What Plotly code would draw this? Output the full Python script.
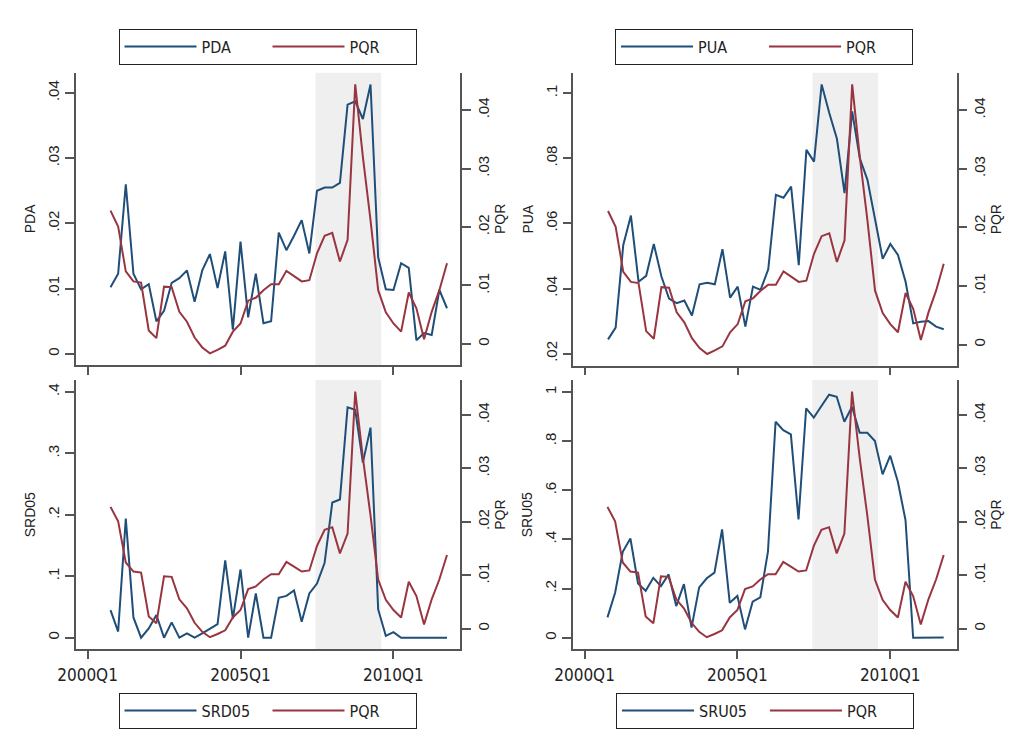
import plotly.graph_objects as go

# ---------------- data ----------------
start_year, start_q, n = 2000, 4, 45
quarters = []
y, q = start_year, start_q
for _ in range(n):
    quarters.append(f"{y}Q{q}")
    q += 1
    if q > 4:
        q, y = 1, y + 1

PDA = [0.0102, 0.0123, 0.0260, 0.0123, 0.0099, 0.0107, 0.0050, 0.0066, 0.0109, 0.0116,
       0.0128, 0.0080, 0.0128, 0.0153, 0.0101, 0.0157, 0.0037, 0.0172, 0.0056, 0.0123,
       0.0047, 0.0050, 0.0186, 0.0159, 0.0181, 0.0205, 0.0154, 0.0250, 0.0255, 0.0255,
       0.0262, 0.0382, 0.0387, 0.0360, 0.0413, 0.0148, 0.0099, 0.0098, 0.0139, 0.0132,
       0.0021, 0.0032, 0.0029, 0.0098, 0.0070]

PUA = [0.0244, 0.0280, 0.0534, 0.0624, 0.0421, 0.0439, 0.0537, 0.0437, 0.0369, 0.0355,
       0.0363, 0.0317, 0.0413, 0.0418, 0.0413, 0.0521, 0.0372, 0.0406, 0.0283, 0.0406,
       0.0396, 0.0459, 0.0688, 0.0679, 0.0713, 0.0472, 0.0826, 0.0790, 0.1027, 0.0939,
       0.0860, 0.0693, 0.0944, 0.0800, 0.0734, 0.0616, 0.0491, 0.0537, 0.0503, 0.0421,
       0.0293, 0.0298, 0.0300, 0.0283, 0.0275]

SRD05 = [0.045, 0.010, 0.194, 0.033, 0.000, 0.015, 0.037, 0.000, 0.025, 0.000,
         0.007, 0.000, 0.007, 0.015, 0.022, 0.126, 0.031, 0.111, 0.000, 0.072,
         0.000, 0.000, 0.065, 0.068, 0.077, 0.026, 0.072, 0.088, 0.122, 0.220,
         0.225, 0.375, 0.371, 0.285, 0.342, 0.046, 0.003, 0.009, 0.000, 0.000,
         0.000, 0.000, 0.000, 0.000, 0.000]

SRU05 = [0.083, 0.183, 0.350, 0.404, 0.221, 0.191, 0.244, 0.210, 0.258, 0.129,
         0.218, 0.041, 0.205, 0.242, 0.265, 0.441, 0.142, 0.170, 0.034, 0.147,
         0.164, 0.350, 0.879, 0.845, 0.828, 0.482, 0.934, 0.896, 0.943, 0.989,
         0.981, 0.879, 0.940, 0.834, 0.834, 0.801, 0.665, 0.741, 0.635, 0.479,
         0.000, 0.000, 0.003, 0.001, 0.001]

PQR = [0.0228, 0.0201, 0.0124, 0.0107, 0.0105, 0.0023, 0.0010, 0.0098, 0.0097, 0.0055,
       0.0038, 0.0011, -0.0006, -0.0016, -0.0010, -0.0003, 0.0021, 0.0035, 0.0074, 0.0079,
       0.0092, 0.0102, 0.0102, 0.0125, 0.0116, 0.0107, 0.0109, 0.0155, 0.0185, 0.0190,
       0.0141, 0.0178, 0.0444, 0.0320, 0.0212, 0.0092, 0.0054, 0.0035, 0.0021, 0.0088,
       0.0061, 0.0008, 0.0055, 0.0092, 0.0138]

tick_labels = ["2000Q1", "2005Q1", "2010Q1"]
crisis_band = ("2007Q3", "2009Q3")

# ---------------- helpers ----------------
def qidx(label):
    yy, qq = label.split("Q")
    return (int(yy) - 2000) * 4 + int(qq) - 1

x = [qidx(s) for s in quarters]
tickvals = [qidx(s) for s in tick_labels]
band_x0 = qidx(crisis_band[0]) - 0.2
band_x1 = qidx(crisis_band[1]) + 0.4

# the page body has an 8px margin: size the figure so it fits the window exactly
OFF = 8
W, H = 1020 - 2 * OFF, 749 - 2 * OFF
BLUE = "#1f4e79"
RED = "#993540"
AXC = "#555555"
YFONT = dict(family="Liberation Sans, Arial, sans-serif", size=15, color="#222222")
XFONT = dict(family="Liberation Sans Narrow, DejaVu Sans Condensed, Arial Narrow, sans-serif", size=17, color="#222222")
TFONT = dict(family="Liberation Sans, Arial, sans-serif", size=14, color="#222222")
LFONT = dict(family="Liberation Sans Narrow, DejaVu Sans Condensed, Arial Narrow, sans-serif", size=16, color="#222222")

def px_x(a, b):
    return [(a - OFF) / W, (b - OFF) / W]

def px_y(top, bottom):
    return [1 - (bottom - OFF) / H, 1 - (top - OFF) / H]

panels = [
    dict(name="PDA", vals=PDA, xd=px_x(75.7, 460), yd=px_y(72.7, 365),
         yr=[-0.0017, 0.0431], ytv=[0, 0.01, 0.02, 0.03, 0.04], ytt=["0", ".01", ".02", ".03", ".04"],
         qr=[-0.0036, 0.0464], qtv=[0, 0.01, 0.02, 0.03, 0.04], labels=False,
         leg=(267.5, 46.5)),
    dict(name="PUA", vals=PUA, xd=px_x(573.3, 956.7), yd=px_y(72.7, 365.7),
         yr=[0.0163, 0.1063], ytv=[0.02, 0.04, 0.06, 0.08, 0.1], ytt=[".02", ".04", ".06", ".08", ".1"],
         qr=[-0.0036, 0.0464], qtv=[0, 0.01, 0.02, 0.03, 0.04], labels=False,
         leg=(764, 46.5)),
    dict(name="SRD05", vals=SRD05, xd=px_x(75.7, 460), yd=px_y(380, 649.3),
         yr=[-0.0189, 0.4195], ytv=[0, 0.1, 0.2, 0.3, 0.4], ytt=["0", ".1", ".2", ".3", ".4"],
         qr=[-0.00386, 0.04655], qtv=[0, 0.01, 0.02, 0.03, 0.04], labels=True,
         leg=(267.5, 710.5)),
    dict(name="SRU05", vals=SRU05, xd=px_x(572.7, 956.7), yd=px_y(380, 649.3),
         yr=[-0.047, 1.049], ytv=[0, 0.2, 0.4, 0.6, 0.8, 1], ytt=["0", ".2", ".4", ".6", ".8", "1"],
         qr=[-0.00386, 0.04655], qtv=[0, 0.01, 0.02, 0.03, 0.04], labels=True,
         leg=(765, 710.5)),
]

fig = go.Figure()
layout = dict(width=W, height=H, margin=dict(l=0, r=0, t=0, b=0, autoexpand=False),
              paper_bgcolor="white", plot_bgcolor="white", shapes=[])

for i, p in enumerate(panels):
    k = i + 1
    xa = "x" if k == 1 else f"x{k}"
    ya_l = f"y{2*k-1}" if k > 1 else "y"
    ya_r = f"y{2*k}"
    leg = "legend" if k == 1 else f"legend{k}"

    fig.add_trace(go.Scatter(x=x, y=p["vals"], mode="lines", name=p["name"],
                             line=dict(color=BLUE, width=2), xaxis=xa, yaxis=ya_l,
                             legend=leg, showlegend=True))
    fig.add_trace(go.Scatter(x=x, y=PQR, mode="lines", name="PQR",
                             line=dict(color=RED, width=2), xaxis=xa, yaxis=ya_r,
                             legend=leg, showlegend=True))

    xkey = "xaxis" if k == 1 else f"xaxis{k}"
    ylkey = "yaxis" if k == 1 else f"yaxis{2*k-1}"
    yrkey = f"yaxis{2*k}"
    layout[xkey] = dict(domain=p["xd"], anchor=ya_l, range=[-1.55, 48.7],
                        tickmode="array", tickvals=tickvals, ticktext=tick_labels,
                        showticklabels=p["labels"], ticks="outside", ticklen=8,
                        tickcolor=AXC, tickwidth=1.5, showline=True, linecolor=AXC,
                        linewidth=1.5, showgrid=False, zeroline=False,
                        tickfont=XFONT, ticklabelstandoff=2, automargin=False)
    layout[ylkey] = dict(domain=p["yd"], anchor=xa, range=p["yr"],
                         tickmode="array", tickvals=p["ytv"], ticktext=p["ytt"],
                         tickangle=-90, ticks="outside", ticklen=9, tickcolor=AXC,
                         tickwidth=1.5, showline=True, linecolor=AXC, linewidth=1.5,
                         showgrid=False, zeroline=False, tickfont=YFONT, automargin=False,
                         title=dict(text=p["name"], font=TFONT, standoff=6))
    layout[yrkey] = dict(overlaying=ya_l, side="right", anchor=xa, range=p["qr"],
                         tickmode="array", tickvals=p["qtv"],
                         ticktext=["0", ".01", ".02", ".03", ".04"],
                         tickangle=-90, ticks="outside", ticklen=9, tickcolor=AXC,
                         tickwidth=1.5, showline=True, linecolor=AXC, linewidth=1.5,
                         showgrid=False, zeroline=False, tickfont=YFONT, automargin=False,
                         title=dict(text="PQR", font=TFONT, standoff=2))
    layout[leg] = dict(x=(p["leg"][0] - OFF) / W, y=1 - (p["leg"][1] - OFF) / H,
                       xanchor="center", yanchor="middle", orientation="h",
                       bordercolor="#222222", borderwidth=1, font=LFONT,
                       entrywidth=61, itemwidth=72, bgcolor="white")
    layout["shapes"].append(dict(type="rect", xref=xa, yref=f"{ya_l} domain",
                                 x0=band_x0, x1=band_x1, y0=0, y1=1,
                                 fillcolor="#efefef", line=dict(width=0), layer="below"))

fig.update_layout(**layout)
fig.write_html("out.html")
